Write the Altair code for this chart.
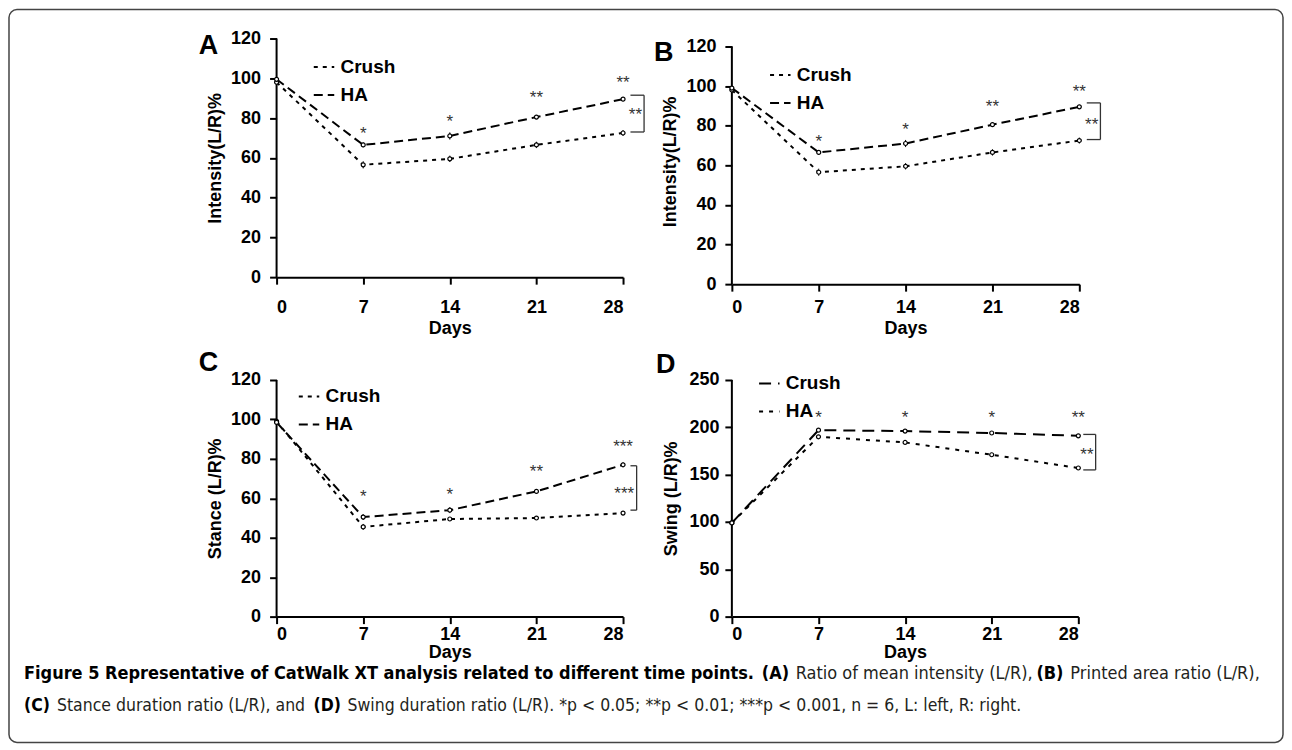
import altair as alt
import pandas as pd

FONT = "Liberation Sans, Arial, sans-serif"
CAP_FONT = "DejaVu Sans Condensed, DejaVu Sans, sans-serif"

days = [0, 7, 14, 21, 28]
groups = ["Crush", "HA"]

# Panel A: Ratio of mean intensity
a_crush = [98, 56.5, 59.5, 66.5, 72.5]
a_ha = [99.5, 66.5, 71, 80.5, 89.5]
a_crush_sem = [1.2, 1.8, 1.6, 1.6, 1.5]
a_ha_sem = [1.0, 1.2, 1.8, 1.0, 1.0]
a_star_y = [74, 80, 92, 99.5]
a_star_txt = ["*", "*", "**", "**"]

# Panel B: Printed area ratio
b_crush = [98, 56.5, 59.5, 66.5, 72.5]
b_ha = [99, 66.5, 71, 80.5, 89.5]
b_crush_sem = [1.2, 1.8, 1.6, 1.6, 1.5]
b_ha_sem = [1.0, 1.2, 1.8, 1.0, 1.0]
b_star_y = [74, 80, 91.5, 99]
b_star_txt = ["*", "*", "**", "**"]

# Panel C: Stance duration ratio
c_crush = [99, 45.5, 49.5, 50, 52.5]
c_ha = [98.5, 50.5, 54, 63.5, 77]
c_crush_sem = [1.0, 1.5, 1.0, 1.0, 1.0]
c_ha_sem = [1.0, 1.5, 1.5, 1.2, 1.2]
c_star_y = [62.5, 63.5, 75.5, 88]
c_star_txt = ["*", "*", "**", "***"]

# Panel D: Swing duration ratio
d_crush = [99, 197, 196, 194, 191]
d_ha = [99, 190, 184, 171, 157]
d_crush_sem = [1.5, 2.0, 1.5, 1.5, 1.5]
d_ha_sem = [1.5, 2.0, 1.5, 2.0, 2.0]
d_star_y = [214, 214, 214, 214]
d_star_txt = ["*", "*", "*", "**"]

star_days = [7, 14, 21, 28]

# brackets at day 28: [x_inner, x_outer], [y_top, y_bottom], label position and text
a_brk = dict(x=[28.6, 29.7], y=[91.5, 73], lx=29.0, ly=83.5, t="**")
b_brk = dict(x=[28.6, 29.7], y=[91.5, 73], lx=29.0, ly=82.5, t="**")
c_brk = dict(x=[28.6, 29.1], y=[76.5, 54], lx=28.1, ly=64, t="***")
d_brk = dict(x=[28.4, 29.4], y=[192.5, 155], lx=28.7, ly=175, t="**")

caption_segments = [
    # (line, x_start_px, bold, text)
    (1, 23, True, "Figure 5 Representative of CatWalk XT analysis related to different time points."),
    (1, 762, True, "(A)"),
    (1, 796, False, "Ratio of mean intensity (L/R),"),
    (1, 1037, True, "(B)"),
    (1, 1071, False, "Printed area ratio (L/R),"),
    (2, 23, True, "(C)"),
    (2, 56, False, "Stance duration ratio (L/R), and"),
    (2, 313, True, "(D)"),
    (2, 347, False, "Swing duration ratio (L/R). *p < 0.05; **p < 0.01; ***p < 0.001, n = 6, L: left, R: right."),
]


def panel(crush, ha, crush_sem, ha_sem, ydom, ytop, yticks, ytitle, width, height,
          dashes, star_y, star_txt, brk, letter, letter_xy, legend_xy,
          xpad=(14, 3), ypad=(9, 6), border=None, caption=None):
    xs = alt.Scale(domain=[0, 28], nice=False, zero=False)
    ys = alt.Scale(domain=ydom, nice=False, zero=False)

    rows = []
    for g, vals, sems in [("Crush", crush, crush_sem), ("HA", ha, ha_sem)]:
        for d, v, s in zip(days, vals, sems):
            rows.append({"day": d, "value": v, "lo": v - s, "hi": v + s, "group": g})
    df = pd.DataFrame(rows)

    xaxis = alt.Axis(values=days, title="Days", labelFont=FONT, labelFontSize=18,
                     labelFontWeight="bold", labelColor="black", titleFont=FONT,
                     titleFontSize=18, titleFontWeight="bold", titleColor="black",
                     tickSize=7, tickWidth=2, tickColor="black", domainWidth=2,
                     domainColor="black", labelPadding=xpad[0], titlePadding=xpad[1],
                     grid=False, labelOverlap=False)
    yaxis = alt.Axis(values=yticks, title=ytitle, labelFont=FONT, labelFontSize=18,
                     labelFontWeight="bold", labelColor="black", titleFont=FONT,
                     titleFontSize=18, titleFontWeight="bold", titleColor="black",
                     tickSize=7, tickWidth=2, tickColor="black", domain=False,
                     labelPadding=ypad[0], titlePadding=ypad[1],
                     grid=False, labelOverlap=False)

    def X(f):
        return alt.X(f, scale=xs, axis=xaxis)

    def Y(f):
        return alt.Y(f, scale=ys, axis=yaxis)

    lines = alt.Chart(df).mark_line(strokeWidth=2, color="black").encode(
        x=X("day:Q"),
        y=Y("value:Q"),
        strokeDash=alt.StrokeDash(
            "group:N",
            scale=alt.Scale(domain=groups, range=dashes),
            legend=alt.Legend(title=None, orient="none", legendX=legend_xy[0],
                              legendY=legend_xy[1], symbolType="stroke",
                              symbolSize=420, symbolStrokeWidth=2,
                              symbolStrokeColor="black", labelFont=FONT,
                              labelFontSize=19, labelFontWeight="bold",
                              labelColor="black", labelOffset=5, rowPadding=6),
        ),
    )
    # y-axis line drawn from 0 up to the top tick
    ydomain = alt.Chart(pd.DataFrame({"day": [0], "value": [ydom[0]], "v2": [ytop]})).mark_rule(
        color="black", strokeWidth=2).encode(
        x=X("day:Q"), y=Y("value:Q"), y2="v2:Q")
    errs = alt.Chart(df).mark_rule(color="black", strokeWidth=1).encode(
        x=X("day:Q"), y=Y("lo:Q"), y2="hi:Q",
    )
    pts = alt.Chart(df).mark_point(shape="circle", size=16, filled=True, fill="white",
                                   stroke="black", strokeWidth=1.2, opacity=1).encode(
        x=X("day:Q"), y=Y("value:Q"),
    )
    sdf = pd.DataFrame({"day": star_days, "value": star_y, "t": star_txt})
    stars = alt.Chart(sdf).mark_text(font=FONT, fontSize=17, color="#333",
                                     baseline="middle", dy=4).encode(
        x=X("day:Q"), y=Y("value:Q"), text="t:N",
    )
    bx0, bx1 = brk["x"]
    by0, by1 = brk["y"]
    bdf = pd.DataFrame({
        "day": [bx0, bx1, bx0], "x2": [bx1, bx1, bx1],
        "value": [by0, by0, by1], "y2": [by0, by1, by1],
    })
    bracket = alt.Chart(bdf).mark_rule(color="#333", strokeWidth=1.3).encode(
        x=X("day:Q"), x2="x2:Q", y=Y("value:Q"), y2="y2:Q",
    )
    bl = alt.Chart(pd.DataFrame({"day": [brk["lx"]], "value": [brk["ly"]], "t": [brk["t"]]})).mark_text(
        font=FONT, fontSize=17, color="#333", baseline="middle", dy=4).encode(
        x=X("day:Q"), y=Y("value:Q"), text="t:N",
    )
    let = alt.Chart(pd.DataFrame({"t": [letter]})).mark_text(
        font=FONT, fontSize=27, fontWeight="bold", color="black", align="left",
        baseline="alphabetic").encode(
        x=alt.value(letter_xy[0]), y=alt.value(letter_xy[1]), text="t:N")

    layers = [lines, ydomain, errs, pts, stars, bracket, bl, let]

    if border is not None:
        brd = alt.Chart(pd.DataFrame({"k": [0]})).mark_rect(
            fill="white", fillOpacity=0, stroke="#444", strokeWidth=1.5,
            cornerRadius=8).encode(
            x=alt.value(border[0]), y=alt.value(border[1]),
            x2=alt.value(border[2]), y2=alt.value(border[3]))
        layers.append(brd)

    if caption is not None:
        ox, oy = caption
        for line, xs_px, bold, txt in caption_segments:
            seg = alt.Chart(pd.DataFrame({"t": [txt]})).mark_text(
                font=CAP_FONT, fontSize=18 if line == 1 else 17.5,
                fontWeight="bold" if bold else "normal",
                color="black" if bold else "#231f20", align="left",
                baseline="alphabetic").encode(
                x=alt.value(xs_px - ox), y=alt.value((678 if line == 1 else 711) - oy),
                text="t:N")
            layers.append(seg)

    return alt.layer(*layers).properties(width=width, height=height)


dash_abc = [[4, 5], [9, 5]]
dash_d = [[12, 7], [4, 6]]

pA = panel(a_crush, a_ha, a_crush_sem, a_ha_sem, [0, 120], 120, list(range(0, 121, 20)),
           "Intensity(L/R)%", 347, 239, dash_abc, a_star_y, a_star_txt, a_brk,
           "A", (-78, 15), (36, 17), xpad=(14, 3),
           border=(8 - 276, 8 - 37, 1284 - 276, 742 - 37))
pB = panel(b_crush, b_ha, b_crush_sem, b_ha_sem, [0, 124], 120, list(range(0, 121, 20)),
           "Intensity(L/R)%", 348, 246, dash_abc, b_star_y, b_star_txt, b_brk,
           "B", (-78, 23), (37, 25), xpad=(7, 3))
pC = panel(c_crush, c_ha, c_crush_sem, c_ha_sem, [0, 120], 120, list(range(0, 121, 20)),
           "Stance (L/R)%", 347, 237, dash_abc, c_star_y, c_star_txt, c_brk,
           "C", (-78, -9), (21, 5), xpad=(2, 0), caption=(276, 379))
pD = panel(d_crush, d_ha, d_crush_sem, d_ha_sem, [0, 250], 250, list(range(0, 251, 50)),
           "Swing (L/R)%", 347, 237, dash_d, d_star_y, d_star_txt, d_brk,
           "D", (-76, -7), (26, -8), xpad=(2, 0), ypad=(6, 8))

chart = alt.concat(pA, pB, pC, pD, columns=2,
                   spacing=alt.RowColnumber(row=96, column=109),
                   bounds="flush").resolve_scale(
    strokeDash="independent"
).resolve_legend(strokeDash="independent").properties(
    padding=0
).configure_view(stroke=None)

chart.save("out.html", embed_options={"renderer": "svg", "actions": False})
